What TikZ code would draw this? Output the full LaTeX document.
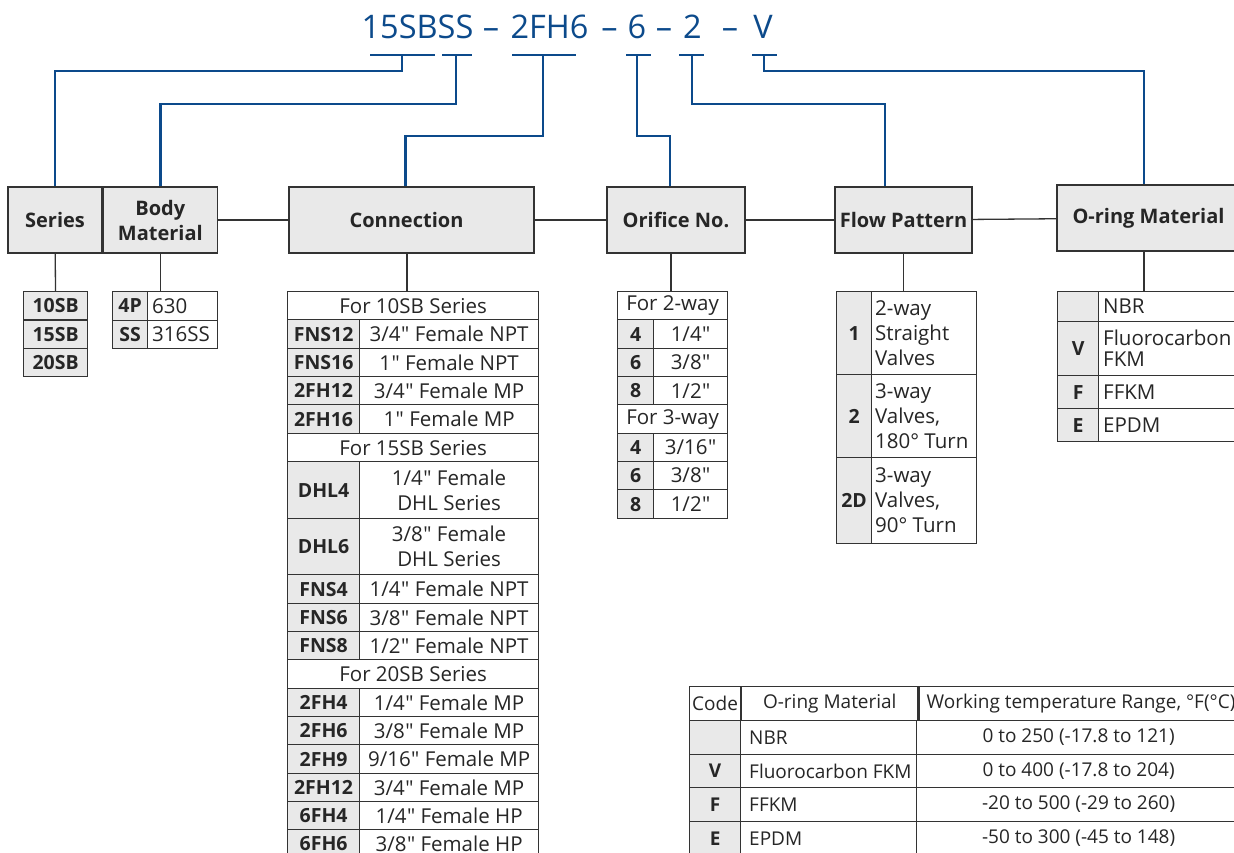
\documentclass[tikz,border=0pt]{standalone}
\usepackage{fontspec}
\setmainfont{Open Sans}
\newfontfamily\quotefont{Open Sans}
\usepackage{tikz}
\usetikzlibrary{positioning}

\definecolor{codeblue}{HTML}{0C4A8B}
\definecolor{cellgray}{HTML}{E9E9E9}
\definecolor{rulegray}{HTML}{333333}

\newcommand{\titlefont}{\fontsize{32.5}{36}\selectfont}
\newcommand{\headfont}{\bfseries\fontsize{20}{25}\selectfont}
\newcommand{\tabfont}{\fontsize{20.5}{25}\selectfont}
\newcommand{\tabbold}{\bfseries\fontsize{19.5}{25}\selectfont}
\newcommand{\lowfont}{\fontsize{19}{22}\selectfont}
\newcommand{\inch}{{\quotefont\kern0.5pt\symbol{34}}}

\tikzset{
  head/.style={draw=rulegray, fill=cellgray, line width=1.3pt, inner sep=0pt, minimum height=66, align=center, text=black!85, font=\headfont},
  key/.style={draw=rulegray, fill=cellgray, line width=1.2pt, inner sep=0pt, anchor=north west, align=center, text=black!85, font=\tabbold},
  val/.style={key, fill=white, font=\tabfont},
  txt/.style={inner sep=0pt, anchor=west, align=left, text=black!85, font=\tabfont},
  link/.style={draw=rulegray, line width=1.3pt},
  codeline/.style={draw=codeblue, line width=2.6pt},
  partno/.style={anchor=base, inner sep=0pt, text=codeblue, font=\titlefont},
}

\begin{document}
\begin{tikzpicture}[x=1pt, y=-1pt]
\useasboundingbox (0,0) rectangle (1234,852);
\clip (0,0) rectangle (1234,852);

\foreach \lab/\x [count=\i] in {15SBSS/417.5, \textendash/491, 2FH6/549.5, \textendash/609.5, 6/637, \textendash/664, 2/692.5, \textendash/730, V/763}
  \node[partno] (p\i) at (\x,38) {\lab};

\foreach \n/\a/\b/\s in {1/370/435/402, 2/442/472/456, 3/512/576/543, 4/626/651/637, 5/679/704/692, 6/752/777/764} {
  \draw[codeline] (\a,55) -- (\b,55);
  \coordinate (u\n) at (\s,55);
}

\node[head, minimum width=94] (series) at (55,220) {Series};
\node[head, minimum width=114, right=0pt of series] (body) {Body\\Material};
\node[head, minimum width=245] (conn) at (411.5,220) {\kern-10pt Connection};
\node[head, minimum width=138] (ori) at (676,220) {Orifice No.};
\node[head, minimum width=137] (flow) at (903.5,220) {Flow Pattern};
\node[head, minimum width=183] (oring) at (1148.5,218) {O-ring Material};

\draw[link] (body) -- (conn);
\draw[link] (conn) -- (ori);
\draw[link] (ori) -- (flow);
\draw[link] (flow) -- (oring);

\coordinate (connhook) at ([xshift=-6pt]conn.north);
\coordinate (orihook) at ([xshift=-6pt]ori.north);
\coordinate (flowhook) at ([xshift=-18.5pt]flow.north);
\coordinate (oringhook) at ([xshift=-4.5pt]oring.north);
\draw[codeline] (u1) -- ++(0,16) -| (series.north);
\draw[codeline] (u2) -- ++(0,49) -| (body.north);
\draw[codeline] (u3) -- ++(0,81) -| (connhook);
\draw[codeline] (u4) -- ++(0,81) -| (orihook);
\draw[codeline] (u5) -- ++(0,49) -| (flowhook);
\draw[codeline] (u6) -- ++(0,16) -| (oringhook);

\foreach \cd [count=\i] in {10SB,15SB,20SB}
  \node[key, minimum width=64, minimum height=28.3] (ser-\i) at (23,{291+28.3*(\i-1)}) {\cd};
\draw[link] (series) -- (ser-1);

\foreach \cd/\ds [count=\i] in {4P/630, SS/316SS} {
  \node[key, minimum width=35, minimum height=28.5] (bdk-\i) at (112,{291+28.5*(\i-1)}) {\cd};
  \node[val, minimum width=70, minimum height=28.5] (bdv-\i) at (147,{291+28.5*(\i-1)}) {};
  \node[txt] (bdt-\i) at ([xshift=5pt]bdv-\i.west) {\ds};
}
\draw[link] (body.south) -- (body.south |- bdv-1.north);

\foreach \ya/\yb/\lab [count=\i] in {291/319/For 10SB Series, 433/461/For 15SB Series, 659/688/For 20SB Series}
  \node[val, minimum width=251, minimum height=\yb-\ya] (cs-\i) at (287,\ya) {\lab};
\foreach \ya/\yb/\cd/\ds [count=\i] in {319/348/FNS12/{3/4\inch{} Female NPT}, 348/376/FNS16/{1\inch{} Female NPT},
    376/404/2FH12/{3/4\inch{} Female MP}, 404/433/2FH16/{1\inch{} Female MP}, 461/518/DHL4/{1/4\inch{} Female\\DHL Series},
    518/574/DHL6/{3/8\inch{} Female\\DHL Series}, 574/603/FNS4/{1/4\inch{} Female NPT}, 603/631/FNS6/{3/8\inch{} Female NPT},
    631/659/FNS8/{1/2\inch{} Female NPT}, 688/716/2FH4/{1/4\inch{} Female MP}, 716/744/2FH6/{3/8\inch{} Female MP},
    744/773/2FH9/{9/16\inch{} Female MP}, 773/801/2FH12/{3/4\inch{} Female MP}, 801/829/6FH4/{1/4\inch{} Female HP},
    829/857/6FH6/{3/8\inch{} Female HP}} {
  \node[key, minimum width=72, minimum height=\yb-\ya] (ck-\i) at (287,\ya) {\cd};
  \node[val, minimum width=179, minimum height=\yb-\ya] (cv-\i) at (359,\ya) {\ds};
}
\coordinate (connfoot) at ([xshift=-4.5pt]conn.south);
\draw[link] (connfoot) -- (connfoot |- cs-1.north);

\foreach \ya/\yb/\lab [count=\i] in {291/319/For 2-way, 404/433/For 3-way}
  \node[val, minimum width=110, minimum height=\yb-\ya] (os-\i) at (617,\ya) {\lab};
\foreach \ya/\yb/\cd/\ds [count=\i] in {319/348/4/{1/4\inch}, 348/376/6/{3/8\inch}, 376/404/8/{1/2\inch},
    433/461/4/{3/16\inch}, 461/489/6/{3/8\inch}, 489/518/8/{1/2\inch}} {
  \node[key, minimum width=36, minimum height=\yb-\ya] (ok-\i) at (617,\ya) {\cd};
  \node[val, minimum width=74, minimum height=\yb-\ya] (ov-\i) at (653,\ya) {\ds};
}
\coordinate (orifoot) at ([xshift=-5pt]ori.south);
\draw[link] (orifoot) -- (orifoot |- os-1.north);

\foreach \ya/\yb/\cd/\ds [count=\i] in {291/374/1/{2-way\\Straight\\Valves}, 374/457/2/{3-way\\Valves,\\180° Turn},
    457/543/2D/{3-way\\Valves,\\90° Turn}} {
  \node[key, minimum width=35, minimum height=\yb-\ya] (fk-\i) at (836,\ya) {\cd};
  \node[val, minimum width=105, minimum height=\yb-\ya] (fv-\i) at (871,\ya) {};
  \node[txt] (ft-\i) at ([xshift=4pt]fv-\i.west) {\ds};
}
\draw[link] (flow.south) -- (flow.south |- fv-1.north);

\foreach \ya/\yb/\cd/\ds [count=\i] in {291/321//NBR, 321/375/V/{Fluorocarbon\\[-4pt]FKM}, 375/408/F/FFKM, 408/441/E/EPDM} {
  \node[key, minimum width=41, minimum height=\yb-\ya] (rk-\i) at (1057,\ya) {\cd};
  \node[val, minimum width=142, minimum height=\yb-\ya] (rv-\i) at (1098,\ya) {};
  \node[txt] (rt-\i) at ([xshift=5pt]rv-\i.west) {\ds};
}
\coordinate (oringfoot) at ([xshift=-4.5pt]oring.south);
\draw[link] (oringfoot) -- (oringfoot |- rv-1.north);

\node[val, font=\lowfont, minimum width=51, minimum height=34] (th-1) at (689,686) {Code};
\node[val, font=\lowfont, minimum width=176, minimum height=34, right=0pt of th-1] (th-2) {O-ring Material};
\node[val, font=\lowfont, minimum width=324, minimum height=34, right=0pt of th-2] (th-3) {Working temperature Range, °F(°C)};
\foreach \ya/\yb/\cd/\ds/\rg [count=\i] in {720/754//NBR/{0 to 250 (-17.8 to 121)}, 754/787/V/Fluorocarbon FKM/{0 to 400 (-17.8 to 204)},
    787/821/F/FFKM/{-20 to 500 (-29 to 260)}, 821/855/E/EPDM/{-50 to 300 (-45 to 148)}} {
  \node[key, font=\bfseries\lowfont, minimum width=51, minimum height=\yb-\ya] (tk-\i) at (689,\ya) {\cd};
  \node[val, minimum width=176, minimum height=\yb-\ya] (tm-\i) at (740,\ya) {};
  \node[txt, font=\lowfont] (tt-\i) at ([xshift=9pt]tm-\i.west) {\ds};
  \node[val, font=\lowfont, minimum width=324, minimum height=\yb-\ya] (tr-\i) at (916,\ya) {\rg};
}

\end{tikzpicture}
\end{document}
